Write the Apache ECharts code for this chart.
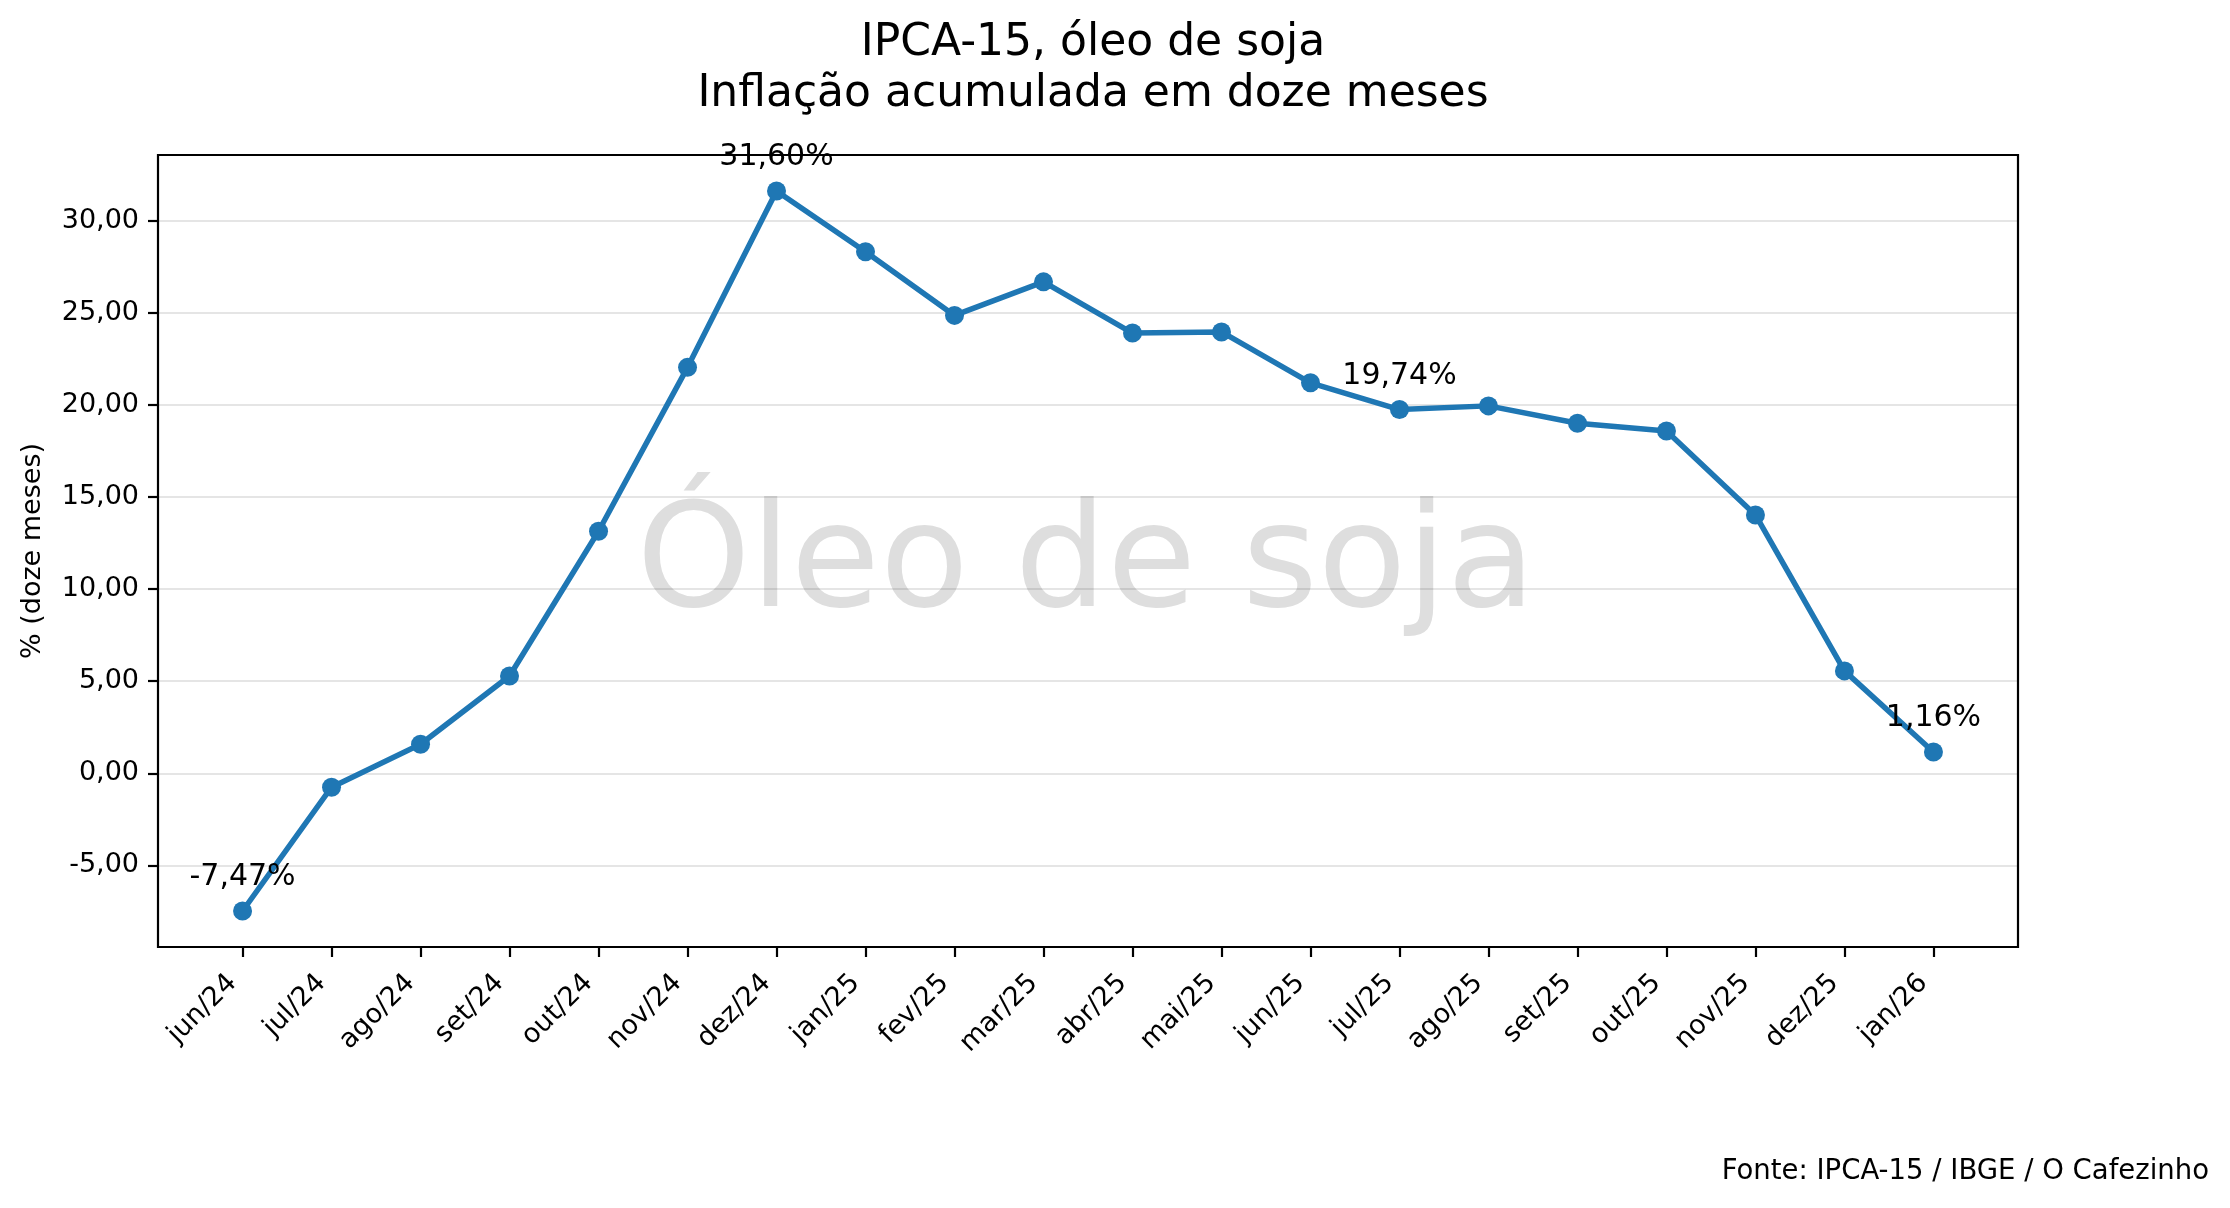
<!DOCTYPE html>
<html>
<head>
<meta charset="utf-8">
<script src="https://cdn.jsdelivr.net/npm/echarts@6/dist/echarts.min.js"></script>
<style>
html,body{margin:0;padding:0;background:#fff;}
#chart{width:2230px;height:1208px;}
</style>
</head>
<body>
<div id="chart"></div>
<script>
const months = ['jun/24','jul/24','ago/24','set/24','out/24','nov/24','dez/24','jan/25','fev/25','mar/25',
  'abr/25','mai/25','jun/25','jul/25','ago/25','set/25','out/25','nov/25','dez/25','jan/26'];
const values = [-7.47, -0.75, 1.58, 5.28, 13.14, 22.03, 31.60, 28.30, 24.85, 26.67,
  23.89, 23.95, 21.19, 19.74, 19.94, 19.00, 18.58, 14.02, 5.56, 1.16];
const annotated = ['jun/24','dez/24','jul/25','jan/26'];
const yTicks = [-5, 0, 5, 10, 15, 20, 25, 30];
const titleText = 'IPCA-15, óleo de soja\nInflação acumulada em doze meses';
const yName = '% (doze meses)';
const watermark = 'Óleo de soja';
const source = 'Fonte: IPCA-15 / IBGE / O Cafezinho';

const FONT = 'DejaVu Sans';
const fmt = v => v.toFixed(2).replace('.', ',');

const xIdx = months.map((m, i) => i);
const n = months.length;
const vmin = Math.min(...values), vmax = Math.max(...values);
const yMargin = (vmax - vmin) * 0.05;
const xMargin = (n - 1) * 0.05;

const data = values.map((v, i) => {
  const item = { value: [i, v] };
  if (annotated.includes(months[i])) {
    item.label = { show: true };
  }
  return item;
});

const chart = echarts.init(document.getElementById('chart'), null, { renderer: 'canvas' });
chart.setOption({
  animation: false,
  backgroundColor: '#ffffff',
  textStyle: { fontFamily: FONT },
  title: {
    text: titleText,
    left: 1088,
    top: 13,
    textAlign: 'center',
    textStyle: { fontFamily: FONT, fontSize: 44, fontWeight: 'normal', color: '#000', lineHeight: 51 }
  },
  grid: {
    left: 158, top: 155, width: 1860, height: 792,
    show: true, borderColor: '#000', borderWidth: 2.2, backgroundColor: 'transparent',
    containLabel: false
  },
  graphic: [
    {
      type: 'text', z: -10, zlevel: 0,
      x: 1086, y: 568,
      style: { text: watermark, fill: '#dedede', font: '145px "DejaVu Sans"', align: 'center', verticalAlign: 'middle' }
    },
    {
      type: 'text',
      x: 2209, y: 1172,
      style: { text: source, fill: '#000', font: '27.5px "DejaVu Sans"', align: 'right', verticalAlign: 'middle' }
    }
  ],
  xAxis: {
    type: 'value',
    min: -xMargin, max: (n - 1) + xMargin,
    axisLine: { show: false, onZero: false },
    splitLine: { show: false },
    axisTick: { show: true, inside: false, length: 10, lineStyle: { color: '#000', width: 2.2 }, customValues: xIdx },
    axisLabel: {
      customValues: xIdx,
      rotate: 45, margin: 22, padding: [0, 14, 0, 0],
      fontSize: 27, fontFamily: FONT, color: '#000',
      formatter: v => months[Math.round(v)]
    }
  },
  yAxis: {
    type: 'value',
    min: vmin - yMargin, max: vmax + yMargin,
    name: yName, nameLocation: 'middle', nameRotate: 90, nameGap: 112,
    nameTextStyle: { fontSize: 27, fontFamily: FONT, color: '#000' },
    axisLine: { show: false, onZero: false },
    axisTick: { show: true, inside: false, length: 10, lineStyle: { color: '#000', width: 2.2 }, customValues: yTicks },
    axisLabel: { customValues: yTicks, margin: 19, fontSize: 27, fontFamily: FONT, color: '#000', formatter: v => fmt(v) },
    splitLine: { show: true, lineStyle: { color: 'rgba(0,0,0,0.1)', width: 2 } }
  },
  series: [{
    type: 'line',
    data: data,
    symbol: 'circle',
    symbolSize: 19,
    showSymbol: true,
    lineStyle: { color: '#1f77b4', width: 5.5 },
    itemStyle: { color: '#1f77b4' },
    label: {
      show: false, position: 'top', distance: 9,
      fontSize: 30, fontFamily: FONT, color: '#000',
      formatter: p => fmt(p.value[1]) + '%'
    },
    emphasis: { disabled: true },
    z: 5
  }]
});
</script>
</body>
</html>
